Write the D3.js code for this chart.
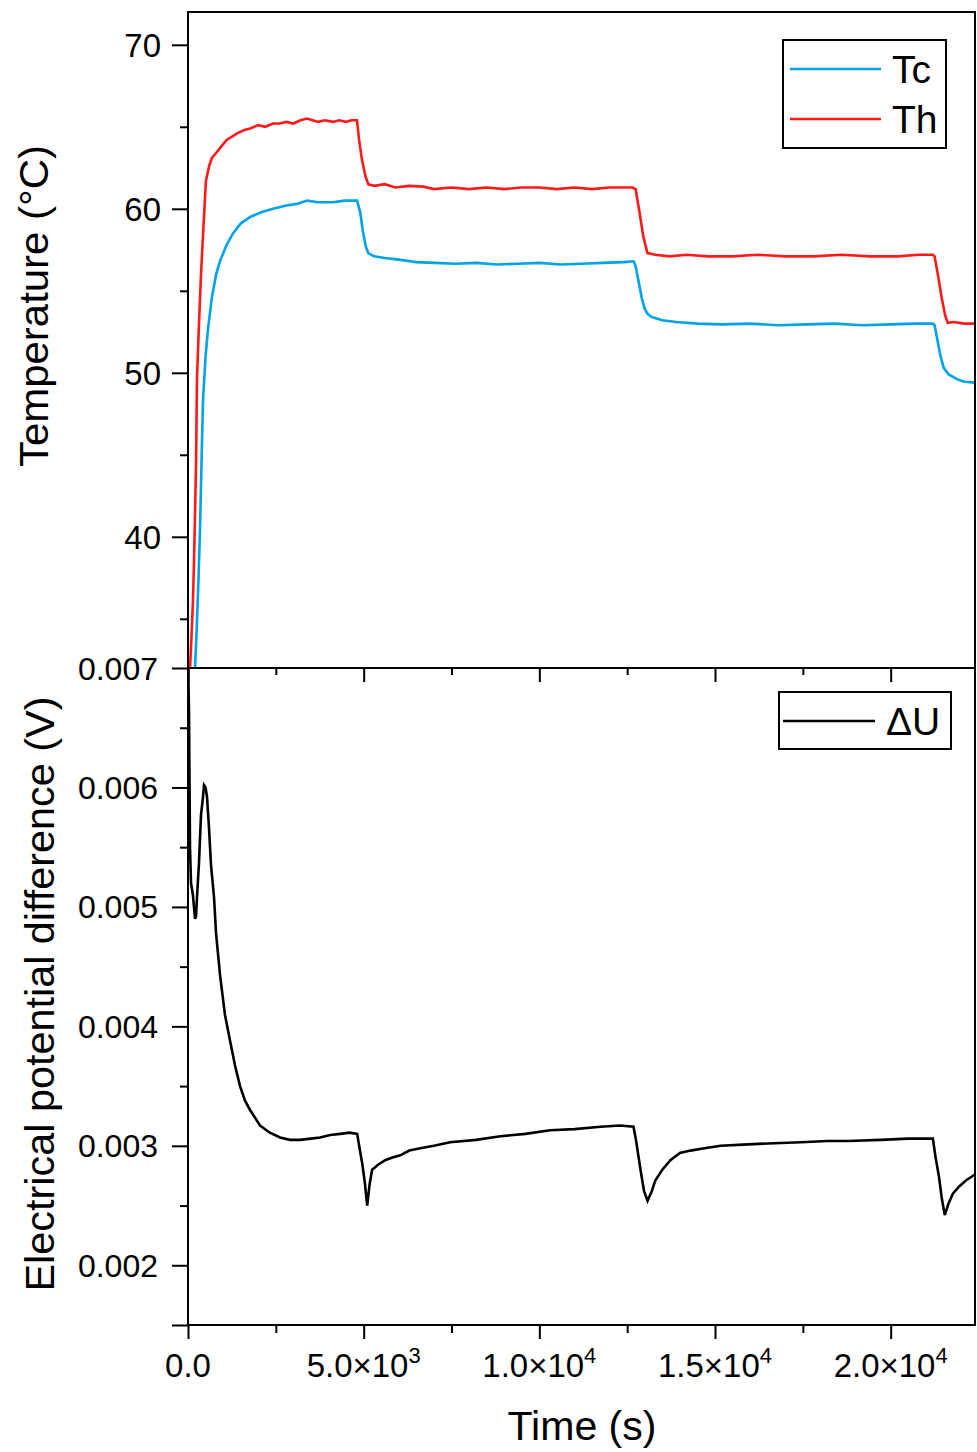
<!DOCTYPE html>
<html><head><meta charset="utf-8">
<script src="https://cdn.jsdelivr.net/npm/d3@7"></script>
<style>
body{margin:0;background:#fff;}
text{font-family:"Liberation Sans",Arial,Helvetica,sans-serif;fill:#000;}
</style></head>
<body>
<svg id="c" width="977" height="1452"></svg>
<script>
// ---------- DATA ----------
const thTime = [57,85,140,171,228,256,313,370,430,510,600,680,800,910,1100,1400,1600,1770,2000,2200,2420,2600,2800,3000,3200,3390,3550,3700,3900,4130,4300,4500,4650,4810,4870,4950,5050,5130,5300,5600,5900,6300,6700,7000,7500,8000,8500,9000,9500,10000,10500,11000,11500,12000,12400,12650,12740,12850,12960,13077,13300,13700,14200,14800,15500,16200,17000,17800,18600,19400,20200,20800,21200,21250,21350,21450,21550,21624,21800,22100,22400];
const thVal  = [32,33.2,36,38.5,44.3,49.7,53,56,58.5,61.7,62.6,63.1,63.4,63.7,64.2,64.6,64.8,64.9,65.1,65.0,65.2,65.2,65.3,65.2,65.4,65.5,65.4,65.3,65.4,65.3,65.4,65.3,65.4,65.4,64.2,63.0,62.0,61.5,61.4,61.5,61.3,61.4,61.35,61.2,61.3,61.2,61.3,61.2,61.3,61.3,61.2,61.3,61.2,61.3,61.3,61.3,61.2,59.8,58.3,57.3,57.2,57.1,57.2,57.1,57.1,57.2,57.1,57.1,57.2,57.1,57.1,57.2,57.2,57.1,55.9,54.6,53.5,53.05,53.1,53.0,53.0];

const tcTime = [180,200,250,300,342,390,427,500,570,680,800,910,1100,1280,1500,1770,2100,2420,2800,3100,3390,3700,4130,4450,4810,4900,4980,5060,5130,5300,5600,6000,6500,7000,7600,8200,8800,9400,10000,10600,11200,11800,12400,12680,12740,12830,12920,13000,13080,13200,13500,13900,14500,15200,16000,16800,17600,18400,19200,20000,20700,21200,21250,21330,21420,21510,21650,21900,22100,22400];
const tcVal  = [31,32,34.5,37.5,40.5,45,48.3,51,52.7,54.6,56.0,56.8,57.8,58.5,59.1,59.5,59.8,60.0,60.2,60.3,60.5,60.4,60.4,60.5,60.5,59.8,58.6,57.7,57.3,57.1,57.0,56.9,56.75,56.7,56.65,56.7,56.6,56.65,56.7,56.6,56.65,56.7,56.75,56.8,56.5,55.5,54.5,53.9,53.6,53.4,53.2,53.1,53.0,52.95,53.0,52.9,52.95,53.0,52.9,52.95,53.0,53.0,52.9,52.0,51.0,50.3,49.9,49.6,49.45,49.4];

const duTime = [0,28,57,85,140,200,228,260,313,370,420,456,500,541,598,655,741,798,912,1050,1197,1340,1481,1620,1766,2051,2330,2621,2900,3190,3500,3760,4050,4330,4600,4815,4900,4960,5030,5100,5170,5240,5400,5610,5800,6040,6300,6610,7000,7460,8200,8890,9600,10310,11000,11740,12300,12680,12750,12880,12980,13080,13200,13300,13500,13730,14000,14300,14700,15160,15800,16500,17440,18200,18800,19720,20500,21200,21280,21370,21460,21540,21650,21770,21950,22140,22400];
const duVal  = [0.0071,0.00664,0.0055,0.0052,0.0051,0.0049,0.00492,0.0051,0.00537,0.00577,0.0059,0.00602,0.006,0.00592,0.00566,0.00535,0.00508,0.00478,0.00443,0.0041,0.00388,0.00367,0.0035,0.00338,0.0033,0.00317,0.00311,0.00307,0.00305,0.00305,0.00306,0.00307,0.00309,0.0031,0.00311,0.0031,0.00295,0.00285,0.0027,0.0025,0.00268,0.0028,0.00284,0.00288,0.0029,0.00292,0.00296,0.00298,0.003,0.00303,0.00305,0.00308,0.0031,0.00313,0.00314,0.00316,0.00317,0.00316,0.00305,0.0028,0.00262,0.00254,0.00262,0.00271,0.0028,0.00288,0.00294,0.00296,0.00298,0.003,0.00301,0.00302,0.00303,0.00304,0.00304,0.00305,0.00306,0.00306,0.0029,0.00275,0.00255,0.00242,0.00252,0.0026,0.00266,0.00271,0.00276];

const tempTicks = [40,50,60,70];
const tempMinor = [35,45,55,65];
const duTicks = [0.002,0.003,0.004,0.005,0.006,0.007];
const duMinor = [0.0025,0.0035,0.0045,0.0055,0.0065];
const timeTicks = [0,5000,10000,15000,20000];
const timeMinor = [2500,7500,12500,17500];
const timeLabels = [["0.0",""],["5.0×10","3"],["1.0×10","4"],["1.5×10","4"],["2.0×10","4"]];

// ---------- LAYOUT ----------
const svg = d3.select("#c");
const L = 188, R = 975, T1 = 12, B1 = 668, T2 = 668, B2 = 1325;

const x = d3.scaleLinear().domain([0,22400]).range([L,R]);
const yT = d3.scaleLinear().domain([32,72]).range([B1,T1]);
const yU = d3.scaleLinear().domain([0.0015,0.007]).range([B2,T2]);

const defs = svg.append("defs");
defs.append("clipPath").attr("id","cp1").append("rect").attr("x",L).attr("y",T1).attr("width",R-L).attr("height",B1-T1);
defs.append("clipPath").attr("id","cp2").append("rect").attr("x",L).attr("y",T2).attr("width",R-L).attr("height",B2-T2);

function styleAxis(g){
  g.select(".domain").remove();
  g.selectAll(".tick line").attr("stroke","#000").attr("stroke-width",2);
  g.selectAll(".tick text").remove();
}

svg.append("g").attr("transform",`translate(${L},0)`).call(d3.axisLeft(yT).tickValues(tempTicks).tickSize(16)).call(styleAxis);
svg.append("g").attr("transform",`translate(${L},0)`).call(d3.axisLeft(yT).tickValues(tempMinor).tickSize(8)).call(styleAxis);
svg.append("g").attr("transform",`translate(0,${B1})`).call(d3.axisBottom(x).tickValues(timeTicks).tickSize(14)).call(styleAxis);
svg.append("g").attr("transform",`translate(0,${B1})`).call(d3.axisBottom(x).tickValues(timeMinor).tickSize(7)).call(styleAxis);

svg.append("g").attr("transform",`translate(${L},0)`).call(d3.axisLeft(yU).tickValues(duTicks.concat([0.0015])).tickSize(16)).call(styleAxis);
svg.append("g").attr("transform",`translate(${L},0)`).call(d3.axisLeft(yU).tickValues(duMinor).tickSize(8)).call(styleAxis);
svg.append("g").attr("transform",`translate(0,${B2})`).call(d3.axisBottom(x).tickValues(timeTicks).tickSize(14)).call(styleAxis);
svg.append("g").attr("transform",`translate(0,${B2})`).call(d3.axisBottom(x).tickValues(timeMinor).tickSize(8)).call(styleAxis);

svg.append("g").selectAll("text").data(tempTicks).join("text")
  .attr("x",161).attr("y",d=>yT(d)).attr("dy","0.36em").attr("text-anchor","end")
  .attr("font-size",33).text(d=>d);
svg.append("g").selectAll("text").data(duTicks).join("text")
  .attr("x",158).attr("y",d=>yU(d)).attr("dy","0.36em").attr("text-anchor","end")
  .attr("font-size",32).text(d=>d3.format(".3f")(d));
const xl = svg.append("g").selectAll("text").data(timeTicks).join("text")
  .attr("x",d=>x(d)).attr("y",1377).attr("text-anchor","middle").attr("font-size",33);
xl.each(function(d,i){
  const t = d3.select(this);
  t.append("tspan").text(timeLabels[i][0]);
  if(timeLabels[i][1]) t.append("tspan").attr("dy",-14).attr("font-size",22).text(timeLabels[i][1]);
  if(i>0) t.attr("textLength",114).attr("lengthAdjust","spacingAndGlyphs");
});

svg.append("text").attr("x",582).attr("y",1440).attr("text-anchor","middle").attr("font-size",41)
  .attr("textLength",149).attr("lengthAdjust","spacingAndGlyphs").text("Time (s)");
svg.append("text").attr("transform","translate(48,306) rotate(-90)").attr("text-anchor","middle")
  .attr("font-size",41).attr("textLength",322).attr("lengthAdjust","spacingAndGlyphs").text("Temperature (°C)");
svg.append("text").attr("transform","translate(54,994) rotate(-90)").attr("text-anchor","middle")
  .attr("font-size",41).attr("textLength",595).attr("lengthAdjust","spacingAndGlyphs").text("Electrical potential difference (V)");

const line = (xs,ys,yS)=>d3.line().x((d,i)=>x(xs[i])).y((d,i)=>yS(ys[i]))(xs);
svg.append("g").attr("clip-path","url(#cp1)").selectAll("path")
  .data([{t:thTime,v:thVal,c:"#ff1a1a"},{t:tcTime,v:tcVal,c:"#00a2e8"}]).join("path")
  .attr("d",d=>line(d.t,d.v,yT)).attr("fill","none").attr("stroke",d=>d.c).attr("stroke-width",2.6);
svg.append("g").attr("clip-path","url(#cp2)").append("path")
  .attr("d",line(duTime,duVal,yU)).attr("fill","none").attr("stroke","#000").attr("stroke-width",2.6);

svg.append("rect").attr("x",L).attr("y",T1).attr("width",R-L).attr("height",B1-T1).attr("fill","none").attr("stroke","#000").attr("stroke-width",2);
svg.append("rect").attr("x",L).attr("y",T2).attr("width",R-L).attr("height",B2-T2).attr("fill","none").attr("stroke","#000").attr("stroke-width",2);

const lg1 = svg.append("g");
lg1.append("rect").attr("x",783).attr("y",40).attr("width",163).attr("height",108).attr("fill","#fff").attr("stroke","#000").attr("stroke-width",2);
[{n:"Tc",c:"#00a2e8",y:69},{n:"Th",c:"#ff1a1a",y:119}].forEach(s=>{
  lg1.append("line").attr("x1",790).attr("x2",881).attr("y1",s.y).attr("y2",s.y).attr("stroke",s.c).attr("stroke-width",2.6);
  lg1.append("text").attr("x",892).attr("y",s.y+14).attr("font-size",39).text(s.n);
});
const lg2 = svg.append("g");
lg2.append("rect").attr("x",779).attr("y",692).attr("width",172).attr("height",57).attr("fill","#fff").attr("stroke","#000").attr("stroke-width",2);
lg2.append("line").attr("x1",783).attr("x2",875).attr("y1",721).attr("y2",721).attr("stroke","#000").attr("stroke-width",2.6);
lg2.append("text").attr("x",886).attr("y",735).attr("font-size",39).text("ΔU");
</script>
</body></html>
